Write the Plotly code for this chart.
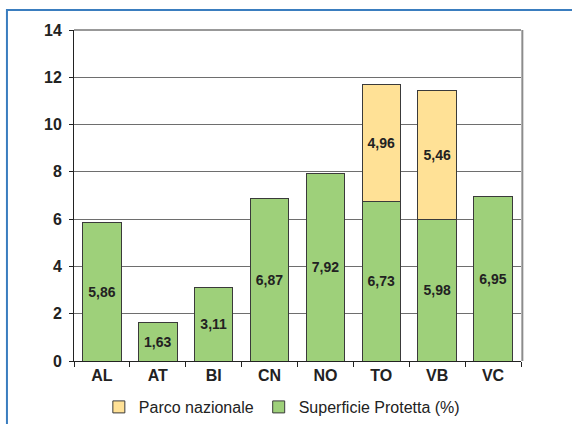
import plotly.graph_objects as go

categories = ["AL", "AT", "BI", "CN", "NO", "TO", "VB", "VC"]
superficie = [5.86, 1.63, 3.11, 6.87, 7.92, 6.73, 5.98, 6.95]
parco = [None, None, None, None, None, 4.96, 5.46, None]
y_ticks = [0, 2, 4, 6, 8, 10, 12, 14]

def fmt(v):
    return "" if v is None else f"{v:.2f}".replace(".", ",")

green = "#9ED07A"
yellow = "#FFE196"
outline = "#3A3A3A"
font_family = "Liberation Sans, Arial, sans-serif"

fig = go.Figure()
fig.add_trace(go.Bar(
    x=categories, y=superficie, name="Superficie Protetta (%)",
    marker=dict(color=green, line=dict(color=outline, width=1)),
    text=[fmt(v) for v in superficie], textposition="inside",
    insidetextanchor="middle", textangle=0,
    textfont=dict(family=font_family, size=14, color="#222222", weight="bold"),
))
fig.add_trace(go.Bar(
    x=categories, y=parco, name="Parco nazionale",
    marker=dict(color=yellow, line=dict(color=outline, width=1)),
    text=[fmt(v) for v in parco], textposition="inside",
    insidetextanchor="middle", textangle=0,
    textfont=dict(family=font_family, size=14, color="#222222", weight="bold"),
))

fig.update_layout(
    width=572, height=424,
    margin=dict(l=74, r=51, t=30, b=63),
    barmode="stack", bargap=0.31,
    paper_bgcolor="white", plot_bgcolor="white",
    font=dict(family=font_family, color="#222222"),
    showlegend=True,
    legend=dict(orientation="h", traceorder="reversed", x=0.465, xanchor="center",
                yref="container", y=0.0, yanchor="bottom",
                font=dict(size=16, color="#222222"),
                bgcolor="rgba(0,0,0,0)", tracegroupgap=0),
    xaxis=dict(
        automargin=False,
        showline=True, linecolor="#222222", linewidth=1,
        ticks="outside", tickson="boundaries", ticklen=5, tickcolor="#222222",
        tickfont=dict(size=16, weight="bold", color="#222222"),
        showgrid=False, fixedrange=True,
    ),
    yaxis=dict(
        automargin=False,
        range=[0, 14], tickvals=y_ticks,
        showline=True, linecolor="#222222", linewidth=1,
        ticks="outside", ticklen=4, tickcolor="#222222", ticklabelstandoff=4,
        tickfont=dict(size=16, weight="bold", color="#222222"),
        showgrid=True, gridcolor="#6E6E6E", gridwidth=1,
        zeroline=False, fixedrange=True,
    ),
    shapes=[
        # outer blue frame (partially visible)
        dict(type="rect", xref="paper", yref="paper",
             x0=-0.150, x1=1.2, y0=-0.3, y1=1.0604,
             line=dict(color="#3A7DBF", width=2), layer="below"),
        # top border of plot area at 14
        dict(type="line", xref="paper", yref="paper",
             x0=0, x1=1, y0=1, y1=1,
             line=dict(color="#333333", width=1)),
        # plot area right edge shadow
        dict(type="line", xref="paper", yref="paper",
             x0=1.003, x1=1.003, y0=0, y1=1,
             line=dict(color="#8C8C8C", width=2)),
    ],
)

fig.write_html("out.html")
